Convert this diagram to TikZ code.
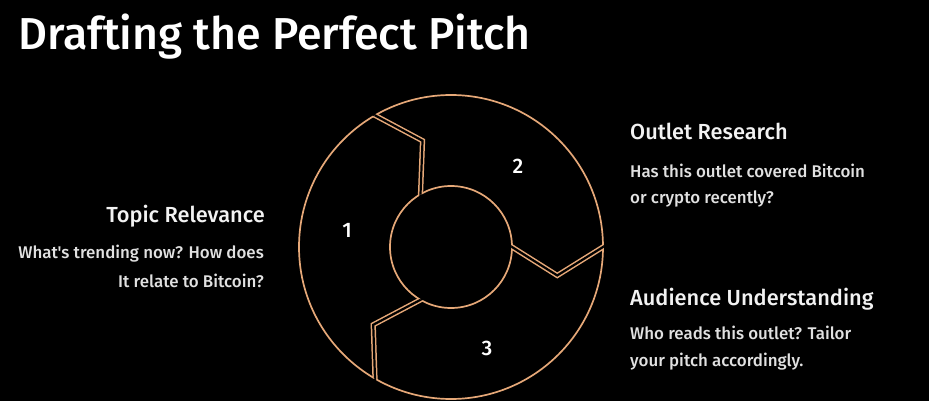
\documentclass[tikz,border=0pt]{standalone}
\usepackage{fontspec}
\setmainfont{Fira Sans}
\newfontfamily\firamed{Fira Sans Medium}
\usetikzlibrary{calc}
\definecolor{copper}{RGB}{230,168,120}
\definecolor{headc}{RGB}{242,242,242}
\definecolor{bodyc}{RGB}{225,225,225}
\tikzset{
  ring/.style={draw=copper, line width=1.7pt},
  strand/.style={draw=copper, line width=1.5pt, double=black, double distance=2.2pt, line join=miter},
  gapline/.style={draw=black, line width=2.2pt},
  title/.style={text=white, font=\firamed\fontsize{44.7}{50}\selectfont, inner sep=0pt},
  head/.style={text=headc, font=\firamed\fontsize{21.8}{24}\selectfont, inner sep=0pt},
  body/.style={text=bodyc, font=\firamed\fontsize{16.9}{18}\selectfont, inner sep=0pt},
  num/.style={text=white, font=\firamed\fontsize{21}{24}\selectfont, inner sep=0pt},
}
\begin{document}
\begin{tikzpicture}[x=1pt,y=-1pt]
\fill[black] (0,0) rectangle (929,401);
\useasboundingbox (0,0) rectangle (929,401);
\node[title, anchor=base west] (ttl) at (18,50) {Drafting the Perfect Pitch};

\coordinate (c) at (451,247);
% divider points
\foreach \k/\a in {1/-120, 2/0, 3/120}{
  \coordinate (in\k) at ($(c)+(\a:61)$);
  \coordinate (kn\k) at ($(c)+(\a+15:110)$);
  \coordinate (out\k) at ($(c)+(\a:152)$);
  \coordinate (ine\k) at ($(in\k)!-6pt!(kn\k)$);
  \coordinate (oute\k) at ($(out\k)!-6pt!(kn\k)$);
}
\draw[ring] (c) circle (152);
\draw[ring] (c) circle (61);
\foreach \k in {1,2,3}{
  \draw[gapline] (ine\k) -- (kn\k) -- (oute\k);
}
\begin{scope}[even odd rule]
  \clip (c) circle (152) (c) circle (61);
  \foreach \k in {1,2,3}{
    \draw[strand] (ine\k) -- (kn\k) -- (oute\k);
  }
\end{scope}

\node[num, anchor=base] (n1) at (347,237) {1};
\node[num, anchor=base] (n2) at (518,173) {2};
\node[num, anchor=base] (n3) at (487,355) {3};

\node[head, anchor=base east] (h1) at (265,222) {Topic Relevance};
\node[body, anchor=base east] (b1a) at (264,258) {What's trending now? How does};
\node[body, anchor=base east] (b1b) at (264,287) {It relate to Bitcoin?};

\node[head, anchor=base west] (h2) at (630,140) {Outlet Research};
\node[body, anchor=base west] (b2a) at (630,177) {Has this outlet covered Bitcoin};
\node[body, anchor=base west] (b2b) at (630,203) {or crypto recently?};

\node[head, anchor=base west] (h3) at (630,305) {Audience Understanding};
\node[body, anchor=base west] (b3a) at (630,339) {Who reads this outlet? Tailor};
\node[body, anchor=base west] (b3b) at (630,366) {your pitch accordingly.};
\end{tikzpicture}
\end{document}
